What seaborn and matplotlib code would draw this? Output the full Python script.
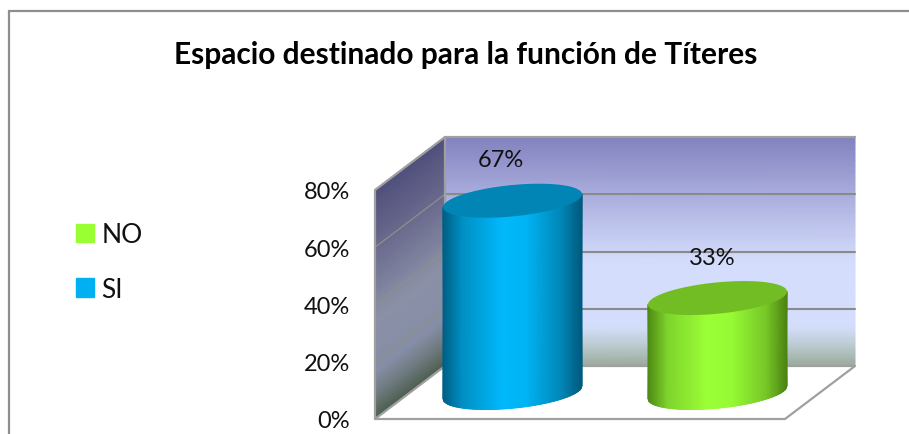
import numpy as np
import pandas as pd
import matplotlib
matplotlib.use('Agg')
import matplotlib.pyplot as plt
import seaborn as sns
from matplotlib.collections import QuadMesh
from matplotlib.colors import LinearSegmentedColormap, Normalize
from matplotlib.lines import Line2D
from matplotlib.patches import Patch, Polygon, Rectangle
from matplotlib.transforms import IdentityTransform

respuestas = ['SI', 'NO']
porcentajes = [0.67, 0.33]
etiquetas = ['67%', '33%']
ticks_y = [0, 0.2, 0.4, 0.6, 0.8]
ticks_txt = ['0%', '20%', '40%', '60%', '80%']
titulo = 'Espacio destinado para la función de Títeres'

W, H = 909, 435
# depth of the fake 3d box, in pixels
DX, DY = 70, 53

sns.set_theme(style='white')
plt.rcParams['font.family'] = ['Lato', 'DejaVu Sans']

fig = plt.figure(figsize=(W / 100, H / 100), dpi=100, facecolor='white')
# front plane of the box
ax = fig.add_axes([375 / W, (H - 420) / H, 410 / W, 229 / H])

df = pd.DataFrame({'respuesta': respuestas, 'valor': porcentajes})
sns.barplot(data=df, x='respuesta', y='valor', hue='respuesta', width=0.678,
            palette={'SI': '#00b0f0', 'NO': '#99ff33'}, legend=False, ax=ax)
ax.set_xlim(-0.5, 1.5)
ax.set_ylim(0, 0.8)
ax.patch.set_visible(False)
for s in ax.spines.values():
    s.set_visible(False)
ax.set_xlabel('')
ax.set_ylabel('')
ax.set_xticks([])
ax.set_yticks(ticks_y)
ax.set_yticklabels(ticks_txt, fontsize=17, color='#111111')
ax.tick_params(axis='y', length=0, pad=18)

to_px = IdentityTransform()


def px(x, y):
    return ax.transData.transform((x, y))


def malla(X, Y, C, colores, z):
    cmap = LinearSegmentedColormap.from_list('g', colores)
    coords = np.dstack([X, Y])
    qm = QuadMesh(coords, shading='gouraud', transform=to_px, cmap=cmap,
                  norm=Normalize(0, 1), zorder=z, clip_on=False)
    qm.set_array(C.ravel())
    ax.add_collection(qm, autolim=False)


x0, y0 = px(-0.5, 0)
x1, y1 = px(1.5, 0)
ytop = px(-0.5, 0.8)[1]

# back wall
v = np.linspace(0, 1, 40)
Xb, Yb = np.meshgrid([x0 + DX, x1 + DX], y0 + DY + v * (ytop - y0))
Cb = np.column_stack([v, v])
malla(Xb, Yb, Cb, [(0, '#9aaa9c'), (0.09, '#bccbd0'), (0.17, '#d4defc'), (0.45, '#d4defc'),
                   (0.72, '#aeb2e0'), (1, '#8282bf')], 1)

# left wall, colours sheared along the depth
u = np.array([0, 1])
Xl = np.outer(np.ones_like(v), x0 + DX * u)
Yl = np.outer(y0 + v * (ytop - y0), np.ones(2)) + np.outer(np.ones_like(v), DY * u)
Cl = np.column_stack([v, v])
malla(Xl, Yl, Cl, [(0, '#4d5f50'), (0.1, '#6e7a7e'), (0.2, '#858ea6'), (0.45, '#8b90a6'),
                   (0.75, '#6a6a8e'), (1, '#50507c')], 1)

# gridlines on both walls
for t in ticks_y[1:-1]:
    yy = px(0, t)[1]
    ax.add_line(Line2D([x0, x0 + DX], [yy, yy + DY], transform=to_px,
                       color='#8f8f8a', lw=0.9, zorder=2, clip_on=False))
    ax.add_line(Line2D([x0 + DX, x1 + DX], [yy + DY, yy + DY], transform=to_px,
                       color='#8a8a8a', lw=1.5, zorder=2, clip_on=False))

# outline of the box
borde = dict(transform=to_px, color='#a0a0a0', lw=1.6, zorder=2, clip_on=False)
ax.add_line(Line2D([x0, x0, x0 + DX, x1 + DX], [y0, ytop, ytop + DY, ytop + DY], **borde))
ax.add_line(Line2D([x0 + DX, x0 + DX], [y0 + DY, ytop + DY], **borde))
ax.add_line(Line2D([x0, x1, x1 + DX, x0 + DX, x0], [y0, y0, y0 + DY, y0 + DY, y0], **borde))

# cylinders, built from the bars that seaborn placed
colores_cil = [
    ('#005f85', '#0090c4', '#00b8fa', '#00b4f4', '#0088b8', '#005a7e'),
    ('#4f8a14', '#7fd42c', '#9bff36', '#96fb34', '#78c828', '#4c8412'),
]
tapas = ['#0085b5', '#73bd24']
s = np.linspace(-1, 1, 121)
for i, bar in enumerate(ax.patches[:2]):
    xc = bar.get_x() + bar.get_width() / 2
    cx, base = px(xc, 0)
    cx += DX / 2
    base += DY / 2
    top = px(xc, bar.get_height())[1] + DY / 2
    a = (px(bar.get_x() + bar.get_width(), 0)[0] - px(bar.get_x(), 0)[0]) / 2
    b, k = 15.7, 6.5
    Y_low = base - b * np.sqrt(1 - s ** 2) + k * s
    Y_up = top + k * s
    X = np.outer(np.ones(2), cx + a * s)
    Y = np.vstack([Y_low, Y_up])
    C = np.outer(np.ones(2), (s + 1) / 2)
    stops = [0, 0.14, 0.42, 0.6, 0.85, 1]
    malla(X, Y, C, list(zip(stops, colores_cil[i])), 3)
    t = np.linspace(0, 2 * np.pi, 120)
    elipse = np.column_stack([cx + a * np.cos(t), top + b * np.sin(t) + k * np.cos(t)])
    ax.add_patch(Polygon(elipse, closed=True, transform=to_px, facecolor=tapas[i],
                         edgecolor='none', zorder=4, clip_on=False))
    bar.set_visible(False)
    ax.annotate(etiquetas[i], xy=(cx - 12 + 6.5 * i, top + 41), xycoords=to_px, ha='center',
                va='center', fontsize=17, color='#111111', zorder=5)

# frame of the chart, right and bottom sides fall outside the picture
fig.add_artist(Rectangle((8.5 / W, -0.1), 1, (H - 12) / H + 0.1,
                         transform=fig.transFigure, facecolor='none',
                         edgecolor='#8e8e8e', lw=1.6))

fig.text(466 / W, (H - 55) / H, titulo, ha='center', va='center', fontsize=21.5,
         fontweight='bold', color='black')

fig.legend(handles=[Patch(color='#99ff33', label='NO'), Patch(color='#00b0f0', label='SI')],
           loc='center left', bbox_to_anchor=(52 / W, (H - 263) / H), frameon=False,
           fontsize=19, handlelength=0.7, handleheight=0.7, handletextpad=0.28,
           labelspacing=1.12, labelcolor='#111111')

fig.savefig('out.png', dpi=100)
